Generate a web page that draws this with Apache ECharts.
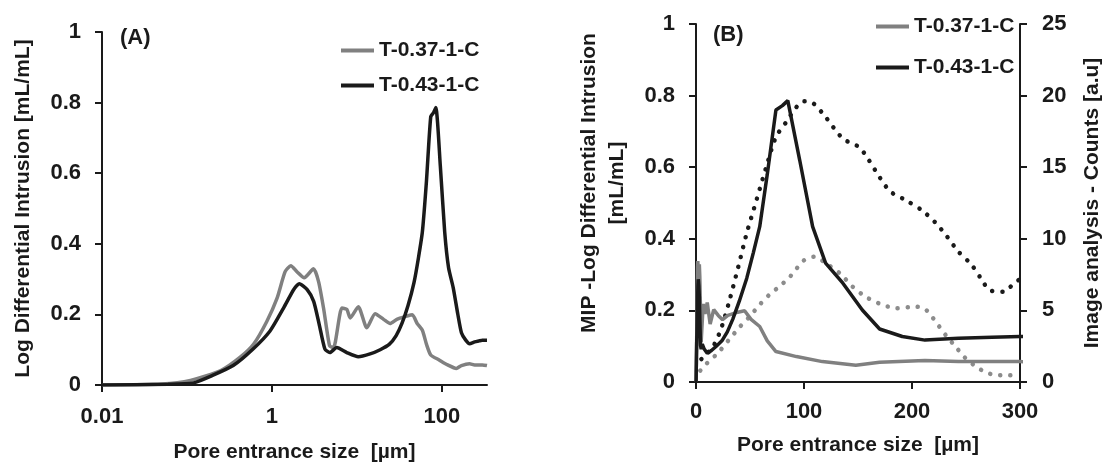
<!DOCTYPE html>
<html>
<head>
<meta charset="utf-8">
<title>Pore entrance size - MIP and image analysis</title>
<script src="https://cdn.jsdelivr.net/npm/echarts@6/dist/echarts.min.js"></script>
<style>
    html, body { margin: 0; padding: 0; background: #fff; }
    #main { width: 1104px; height: 468px; }
</style>
</head>
<body>
<div id="main"></div>
<script>
    // MIP: log differential intrusion [mL/mL] against pore entrance size [µm]
    var poreSize037 = [0.01, 0.05, 0.11, 0.25, 0.42, 0.61, 0.87, 1.15, 1.43, 1.67, 1.97, 2.4, 3.09, 3.54, 4.05, 4.77, 5.31, 6.66, 7.62, 8.34,
        10.4, 13.1, 16.4, 20.6, 24.6, 29.5, 38.7, 45, 51, 59, 66, 74, 93, 117, 148, 170, 212, 243, 300, 340];
    var intrusion037 = [0, 0.003, 0.013, 0.041, 0.078, 0.116, 0.18, 0.246, 0.321, 0.338, 0.321, 0.304, 0.329, 0.293, 0.218, 0.111, 0.106, 0.218, 0.214, 0.19,
        0.222, 0.162, 0.202, 0.186, 0.174, 0.186, 0.195, 0.199, 0.175, 0.155, 0.115, 0.085, 0.071, 0.057, 0.047, 0.055, 0.06, 0.057, 0.057, 0.055];

    var poreSize043 = [0.01, 0.06, 0.12, 0.2, 0.35, 0.6, 0.95, 1.37, 1.8, 2.1, 2.6, 3.1, 3.6, 4.2, 4.8, 5.8, 7.6, 10.4, 14.3, 18.8,
        24, 29, 34, 40, 47, 53, 59, 66, 74, 80, 85, 96, 108, 120, 136, 154, 170, 191, 212, 243, 274, 300, 340];
    var intrusion043 = [0, 0.002, 0.006, 0.027, 0.055, 0.102, 0.153, 0.218, 0.27, 0.287, 0.27, 0.237, 0.172, 0.102, 0.092, 0.106, 0.092, 0.08, 0.088, 0.1,
        0.115, 0.14, 0.175, 0.225, 0.29, 0.36, 0.434, 0.58, 0.76, 0.772, 0.786, 0.62, 0.434, 0.332, 0.276, 0.201, 0.148, 0.127, 0.117, 0.122, 0.125, 0.127, 0.127];

    // image analysis counts [a.u] (right axis of panel B, dotted)
    var imageSize037 = [4, 10, 20, 30, 40, 50, 59, 68, 77, 87, 100, 110, 120, 133, 145, 157, 169, 186, 202, 211,
        217, 225, 232, 240, 249, 257, 264, 271, 278, 290, 300];
    var counts037 = [0.8, 1.3, 2.0, 2.9, 3.8, 4.6, 5.4, 6.1, 6.66, 7.35, 8.5, 8.75, 8.3, 7.6, 6.66, 5.96, 5.5, 5.15, 5.26, 5.15,
        4.7, 3.9, 3.2, 2.5, 1.7, 1.2, 0.85, 0.6, 0.49, 0.47, 0.47];

    var imageSize043 = [5, 16, 24, 31, 39, 47, 56, 65, 74, 84, 93, 100, 108, 120, 136, 151, 160, 170, 180, 194,
        209, 222, 232, 243, 255, 265, 272, 285, 292, 300];
    var counts043 = [1.6, 2.5, 3.9, 5.7, 8.0, 10.4, 12.7, 15.0, 17.1, 18.2, 19.2, 19.6, 19.5, 18.5, 17.0, 16.4, 15.5, 14.3, 13.3, 12.7,
        12.0, 11.1, 10.2, 9.1, 8.2, 7.1, 6.4, 6.3, 6.7, 7.2];

    var logTicks = [0.01, 1, 100];
    var seriesNames = ['T-0.37-1-C', 'T-0.43-1-C'];

    function pairs(xs, ys) {
        return xs.map(function (x, i) {
            return [x, ys[i]];
        });
    }

    var ink = '#1a1a1a';
    var grey = '#808080';
    var font = '"Liberation Sans", Arial, sans-serif';
    var labelText = {color: ink, fontFamily: font, fontWeight: 'bold', fontSize: 22};
    var nameText = {color: ink, fontFamily: font, fontWeight: 'bold', fontSize: 21};
    var axisLine = {onZero: false, lineStyle: {color: ink, width: 2}};
    var axisTick = {length: 7, lineStyle: {color: ink, width: 2}};

    var myChart = echarts.init(document.getElementById('main'));

    var option = {
        backgroundColor: '#fff',
        animation: false,
        title: [
            {text: '(A)', left: 115, top: 22, textStyle: {color: ink, fontFamily: font, fontWeight: 'bold', fontSize: 22}},
            {text: '(B)', left: 708, top: 19, textStyle: {color: ink, fontFamily: font, fontWeight: 'bold', fontSize: 22}}
        ],
        legend: [
            {
                data: seriesNames, orient: 'vertical', left: 341, top: 40, padding: 0,
                icon: 'rect', itemWidth: 33, itemHeight: 4, itemGap: 14,
                textStyle: {color: ink, fontFamily: font, fontWeight: 'bold', fontSize: 21, lineHeight: 21}
            },
            {
                data: seriesNames, orient: 'vertical', left: 876, top: 16, padding: 0,
                icon: 'rect', itemWidth: 33, itemHeight: 4, itemGap: 20,
                textStyle: {color: ink, fontFamily: font, fontWeight: 'bold', fontSize: 21, lineHeight: 21}
            }
        ],
        grid: [
            {left: 102, top: 32, width: 385, height: 356},
            {left: 696, top: 24, width: 326, height: 358}
        ],
        xAxis: [
            {
                type: 'log', gridIndex: 0, logBase: 10, min: 0.01, max: 340,
                axisLine: axisLine,
                axisTick: {length: 7, lineStyle: {color: ink, width: 2}, customValues: logTicks},
                axisLabel: Object.assign({margin: 21, customValues: logTicks}, labelText),
                minorTick: {show: false},
                splitLine: {show: false},
                name: 'Pore entrance size  [µm]', nameLocation: 'middle', nameGap: 57, nameTextStyle: nameText
            },
            {
                type: 'value', gridIndex: 1, min: 0, max: 300, interval: 100,
                axisLine: axisLine, axisTick: axisTick,
                axisLabel: Object.assign({margin: 19}, labelText),
                splitLine: {show: false},
                name: 'Pore entrance size  [µm]', nameLocation: 'middle', nameGap: 53, nameTextStyle: nameText
            }
        ],
        yAxis: [
            {
                type: 'value', gridIndex: 0, min: 0, max: 1, interval: 0.2,
                axisLine: Object.assign({show: true}, axisLine), axisTick: Object.assign({show: true}, axisTick),
                axisLabel: Object.assign({margin: 21}, labelText),
                splitLine: {show: false},
                name: 'Log Differential Intrusion [mL/mL]', nameLocation: 'middle', nameGap: 68, nameTextStyle: nameText
            },
            {
                type: 'value', gridIndex: 1, min: 0, max: 1, interval: 0.2,
                axisLine: Object.assign({show: true}, axisLine), axisTick: Object.assign({show: true}, axisTick),
                axisLabel: Object.assign({margin: 21}, labelText),
                splitLine: {show: false},
                name: 'MIP -Log Differential Intrusion\n[mL/mL]', nameLocation: 'middle', nameGap: 65,
                nameTextStyle: Object.assign({lineHeight: 28, padding: [0, 0, 0, 40]}, nameText)
            },
            {
                type: 'value', gridIndex: 1, position: 'right', min: 0, max: 25, interval: 5,
                axisLine: Object.assign({show: true}, axisLine), axisTick: Object.assign({show: true}, axisTick),
                axisLabel: Object.assign({margin: 22}, labelText),
                splitLine: {show: false},
                name: 'Image analysis - Counts [a.u]', nameLocation: 'middle', nameGap: 62, nameTextStyle: nameText
            }
        ],
        series: [
            {
                name: seriesNames[0], type: 'line', xAxisIndex: 0, yAxisIndex: 0, symbol: 'none', smooth: 0.2,
                data: pairs(poreSize037, intrusion037),
                itemStyle: {color: grey}, lineStyle: {color: grey, width: 3.5}
            },
            {
                name: seriesNames[1], type: 'line', xAxisIndex: 0, yAxisIndex: 0, symbol: 'none', smooth: 0.2,
                data: pairs(poreSize043, intrusion043),
                itemStyle: {color: ink}, lineStyle: {color: ink, width: 3.5}
            },
            {
                name: 'T-0.37-1-C image', type: 'line', xAxisIndex: 1, yAxisIndex: 2, symbol: 'none', smooth: 0.3,
                data: pairs(imageSize037, counts037),
                lineStyle: {color: '#8c8c8c', width: 4.5, type: [0.1, 10], cap: 'round'}
            },
            {
                name: 'T-0.43-1-C image', type: 'line', xAxisIndex: 1, yAxisIndex: 2, symbol: 'none', smooth: 0.3,
                data: pairs(imageSize043, counts043),
                lineStyle: {color: ink, width: 4.5, type: [0.1, 10], cap: 'round'}
            },
            {
                name: seriesNames[0], type: 'line', xAxisIndex: 1, yAxisIndex: 1, symbol: 'none',
                data: pairs(poreSize037, intrusion037),
                itemStyle: {color: grey}, lineStyle: {color: grey, width: 3.5}
            },
            {
                name: seriesNames[1], type: 'line', xAxisIndex: 1, yAxisIndex: 1, symbol: 'none',
                data: pairs(poreSize043, intrusion043),
                itemStyle: {color: ink}, lineStyle: {color: ink, width: 3.5}
            }
        ]
    };

    myChart.setOption(option);
</script>
</body>
</html>
